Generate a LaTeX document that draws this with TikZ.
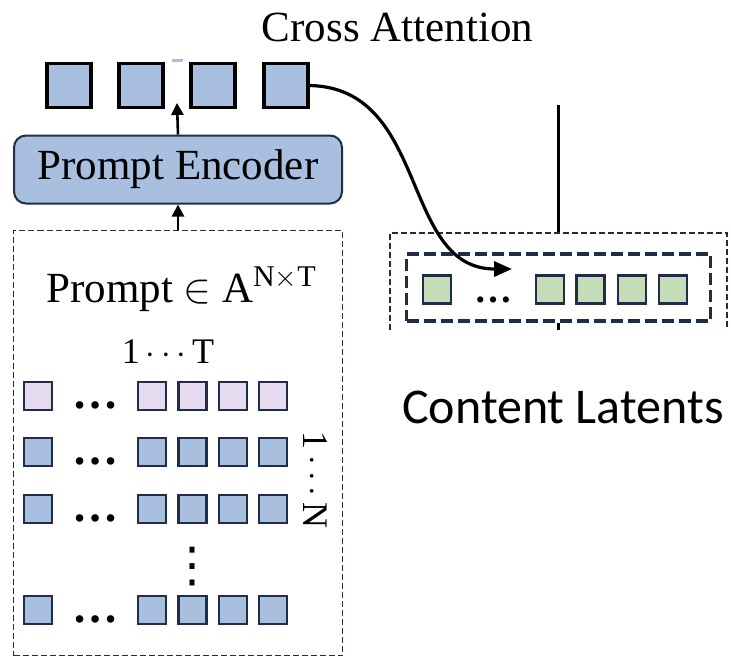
\documentclass[tikz,border=0pt]{standalone}
\usepackage{fontspec}
\setmainfont{Liberation Serif}
\newfontfamily\latfont{Carlito}
\newfontfamily\symfont{DejaVu Sans}
\usetikzlibrary{arrows.meta, positioning}
\definecolor{tokblue}{HTML}{A9BFE0}
\definecolor{tokpink}{HTML}{E6DAF0}
\definecolor{tokgreen}{HTML}{C4DDB7}
\definecolor{navy}{HTML}{1F2D48}
\newcommand{\bigfont}{\fontsize{21.5}{24}\selectfont}
\newcommand{\idxfont}{\fontsize{18}{20}\selectfont}

\begin{document}
\begin{tikzpicture}[x=0.5pt, y=-0.5pt,
    tok/.style={draw=navy, line width=1.1pt, minimum size=14pt, inner sep=0pt},
    bigtok/.style={draw=black, line width=1.6pt, fill=tokblue, minimum size=22pt, inner sep=0pt},
    hdots/.style={font=\fontsize{23}{24}\bfseries\selectfont, anchor=base, inner sep=0pt},
    thinbox/.style={draw=navy, line width=0.8pt, dash pattern=on 3pt off 1.5pt},
    uparrow/.style={line width=1.3pt, -{Triangle[length=6pt, width=6pt]}}]
  \useasboundingbox (0,0) rectangle (731,658);

  % prompt embeddings fed to cross attention
  \foreach \x [count=\i] in {69,141,213,286}
    \node[bigtok] (q\i) at (\x,85.5) {};
  \fill[tokblue] (172,59) rectangle (183,62);
  \node[font=\bigfont, anchor=base] (xattn) at (397.5,42) {Cross Attention};

  % encoder
  \node[draw=navy, line width=1pt, fill=tokblue, rounded corners=6pt,
        minimum width=164pt, minimum height=34pt, font=\bigfont] (enc) at (178,169.5) {Prompt Encoder};
  \coordinate (enctip) at (177,103);
  \draw[uparrow] (enc.north) -- (enctip);

  % prompt grid, N x T
  \node[thinbox, minimum width=164.5pt, minimum height=212.5pt] (pbox) at (178,443) {};
  \draw[uparrow] (pbox.north) -- (enc.south);
  \node[font=\bigfont, anchor=base] (plabel) at (181.5,302)
    {Prompt $\in$ A\textsuperscript{N$\times$T}};
  \node[font=\idxfont, anchor=base] (tlabel) at (168,363) {1\,$\cdots$\,T};
  \node[font=\idxfont, rotate=-90] (nlabel) at (315,480) {1\,$\cdots$\,N};
  \foreach \y/\col [count=\r] in {396/tokpink, 452/tokblue, 509/tokblue, 610/tokblue} {
    \node[tok, fill=\col] (g\r-0) at (38,\y) {};
    \node[hdots] (d\r) at (95,{\y+12}) {\ldots};
    \foreach \x [count=\c] in {152,192.5,233,273}
      \node[tok, fill=\col] (g\r-\c) at (\x,\y) {};
  }
  \node[font=\symfont\fontsize{24}{24}\selectfont, inner sep=0pt] (vd) at (192.5,567) {⋮};

  % content latents
  \coordinate (vtop) at (558,105);
  \coordinate (vbot) at (558,330);
  \draw[line width=1.5pt] (vtop) -- (vbot);
  \fill[white] (390,233) rectangle (727,323);
  \draw[thinbox] (390,330) -- (390,233) -- (727,233) -- (727,330);
  \node[draw=navy, line width=1.8pt, dash pattern=on 6pt off 2.5pt,
        minimum width=152pt, minimum height=33.5pt] (inbox) at (558.5,287.5) {};
  \node[tok, fill=tokgreen] (c0) at (437,289.5) {};
  \node[hdots, font=\fontsize{19}{20}\bfseries\selectfont] (cd) at (493,302) {\ldots};
  \foreach \x [count=\c] in {550,590.5,632,673}
    \node[tok, fill=tokgreen] (c\c) at (\x,289.5) {};
  \node[font=\latfont\fontsize{25}{26}\selectfont, anchor=base] (latlabel) at (563,423) {Content Latents};

  % cross attention link
  \coordinate (lattip) at (512,269);
  \draw[line width=1.6pt, -{Triangle[length=9pt, width=7.5pt]}]
    (q4.east) .. controls (430,88) and (400,269) .. (lattip);
\end{tikzpicture}
\end{document}
